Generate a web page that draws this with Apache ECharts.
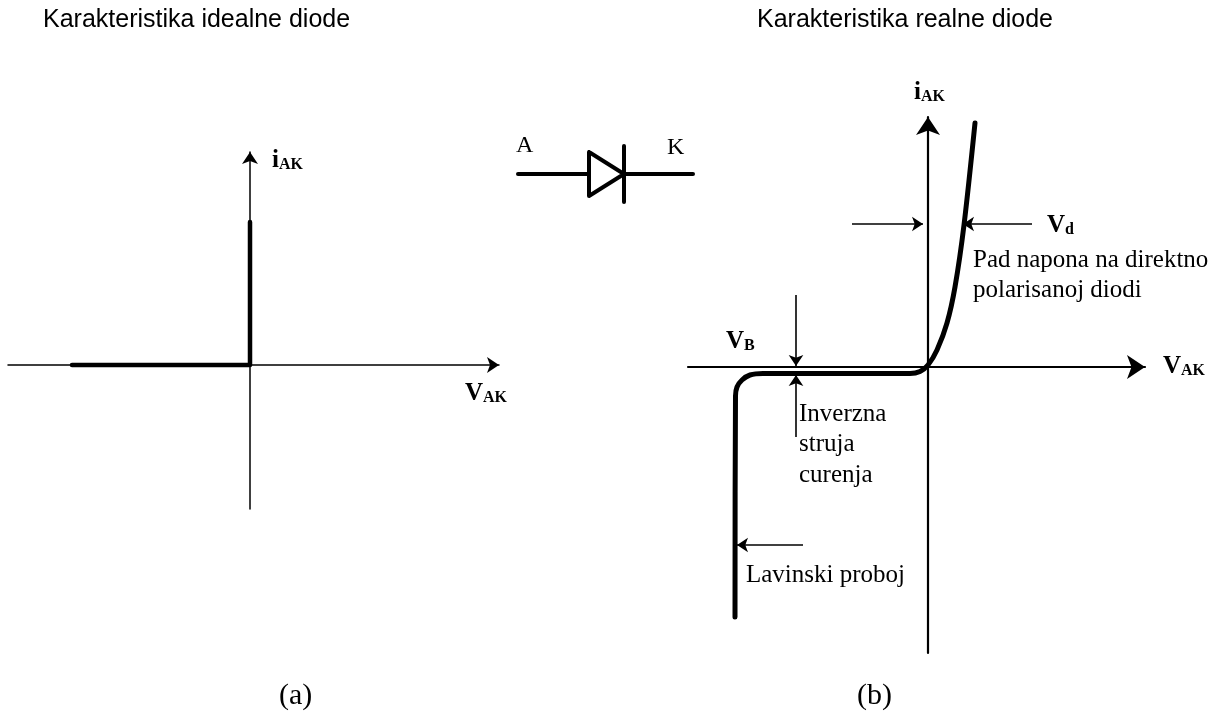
<!DOCTYPE html>
<html>
<head>
<meta charset="utf-8">
<style>
  html, body { margin: 0; background: #fff; }
  #main { width: 1216px; height: 713px; }
</style>
<script src="https://cdn.jsdelivr.net/npm/echarts@6/dist/echarts.min.js"></script>
</head>
<body>
<div id="main"></div>
<script>
// ideal diode curve (V, i)
const idealCurve = [[-178, 0], [0, 0], [0, 143]]

const realCurve = [
  [47, 244], [36, 142], [27, 80], [19, 44], [9, 17], [0, 2], [-8, -4.5], [-18, -6.5],
  [-165, -6.5], [-178, -8], [-186, -13], [-191, -20], [-192.5, -29], [-193, -250]
]

// annotation arrows on the real diode chart, [from, to]
const vdArrows = [[[-76, 143], [-5, 143]], [[104, 143], [35, 143]]]
const vbArrows = [[[-132, 72], [-132, 1]], [[-132, -70], [-132, -8]]]
const breakdownArrow = [[[-125, -178], [-191, -178]]]

// diode symbol
const diodeWireIn = [[0, 0], [71, 0]]
const diodeWireOut = [[106, 0], [175, 0]]
const diodeTriangle = [[71, 22], [71, -22], [106, 0], [71, 22]]
const diodeBar = [[106, 28], [106, -28]]

const titleIdeal = 'Karakteristika idealne diode'
const titleReal = 'Karakteristika realne diode'
const labelA = 'A'
const labelK = 'K'
const captionA = '(a)'
const captionB = '(b)'
const noteDrop = 'Pad napona na direktno\npolarisanoj diodi'
const noteLeak = 'Inverzna\nstruja\ncurenja'
const noteBreakdown = 'Lavinski proboj'

const SERIF = '"Liberation Serif"'
const SANS = '"Liberation Sans"'

const chart = echarts.init(document.getElementById('main'), null, { renderer: 'canvas' })

// bare axis: just the line with an arrow at the end
const axis = (min, max, gridIndex, width, arrow) => ({
  type: 'value',
  gridIndex,
  min,
  max,
  axisLine: {
    show: true,
    symbol: ['none', 'arrow'],
    symbolSize: [arrow, arrow],
    lineStyle: { color: '#000', width }
  },
  axisTick: { show: false },
  axisLabel: { show: false },
  splitLine: { show: false }
})

const hiddenAxis = (min, max, gridIndex) => ({
  type: 'value', gridIndex, min, max, show: false
})

const thick = (data, idx, width, smooth) => ({
  type: 'line',
  xAxisIndex: idx,
  yAxisIndex: idx,
  data,
  smooth: smooth || false,
  symbol: 'none',
  clip: false,
  silent: true,
  lineStyle: { color: '#000', width, cap: 'round', join: 'round' }
})

const arrows = (list) => ({
  type: 'lines',
  coordinateSystem: 'cartesian2d',
  xAxisIndex: 1,
  yAxisIndex: 1,
  silent: true,
  symbol: ['none', 'arrow'],
  symbolSize: 11,
  lineStyle: { color: '#000', width: 1.6, opacity: 1, curveness: 0 },
  data: list.map(coords => ({ coords }))
})

const text = (x, y, str, font, size, extra) => ({
  type: 'text',
  x,
  y,
  silent: true,
  style: Object.assign({
    text: str,
    fill: '#000',
    fontFamily: font,
    fontSize: size,
    verticalAlign: 'top',
    align: 'left'
  }, extra || {})
})

// bold label with subscript
const subLabel = (x, y, main, sub) => ({
  type: 'text',
  x,
  y,
  silent: true,
  style: {
    text: '{m|' + main + '}{s|' + sub + '}',
    verticalAlign: 'top',
    rich: {
      m: { fontFamily: SERIF, fontWeight: 'bold', fontSize: 25, fill: '#000', lineHeight: 29, verticalAlign: 'bottom' },
      s: { fontFamily: SERIF, fontWeight: 'bold', fontSize: 16, fill: '#000', lineHeight: 16, verticalAlign: 'bottom' }
    }
  }
})

chart.setOption({
  animation: false,
  backgroundColor: '#fff',
  grid: [
    { left: 8, width: 491, top: 152, height: 357 },
    { left: 688, width: 457, top: 117, height: 536 },
    { left: 518, width: 175, top: 146, height: 57 }
  ],
  xAxis: [axis(-242, 249, 0, 1.5, 12), axis(-240, 217, 1, 2.2, 18), hiddenAxis(0, 175, 2)],
  yAxis: [axis(-144, 213, 0, 1.5, 12), axis(-286, 250, 1, 2.2, 18), hiddenAxis(-29, 28, 2)],
  series: [
    thick(idealCurve, 0, 4.5),
    thick(realCurve, 1, 5, 0.3),
    thick(diodeWireIn, 2, 4),
    thick(diodeWireOut, 2, 4),
    thick(diodeTriangle, 2, 4),
    thick(diodeBar, 2, 4),
    arrows(vdArrows),
    arrows(vbArrows),
    arrows(breakdownArrow)
  ],
  graphic: [
    text(43, 8, titleIdeal, SANS, 25),
    text(757, 8, titleReal, SANS, 25),
    text(516, 134, labelA, SERIF, 24),
    text(667, 136, labelK, SERIF, 24),
    text(279, 681, captionA, SERIF, 30),
    text(857, 681, captionB, SERIF, 30),
    text(973, 245, noteDrop, SERIF, 25, { lineHeight: 30 }),
    text(799, 399, noteLeak, SERIF, 25, { lineHeight: 30.5 }),
    text(746, 563, noteBreakdown, SERIF, 25),
    subLabel(272, 144, 'i', 'AK'),
    subLabel(465, 377, 'V', 'AK'),
    subLabel(914, 76, 'i', 'AK'),
    subLabel(1163, 350, 'V', 'AK'),
    subLabel(1047, 209, 'V', 'd'),
    subLabel(726, 325, 'V', 'B')
  ]
})
</script>
</body>
</html>
